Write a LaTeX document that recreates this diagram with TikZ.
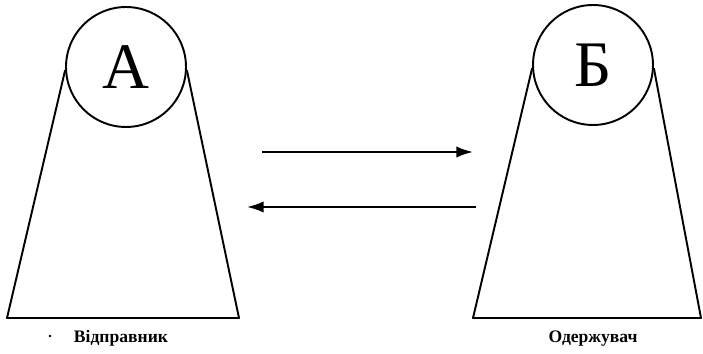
\documentclass[tikz,border=0pt]{standalone}
\usepackage{fontspec}
\setmainfont{Liberation Serif}
\usetikzlibrary{arrows.meta}

\begin{document}
\begin{tikzpicture}[x=0.02cm,y=-0.02cm,>={Latex[length=9.5pt,width=6.5pt]},
    head/.style={draw,circle,line width=1.1pt,inner sep=0pt,minimum size=2.4cm,
      font=\fontsize{37}{40}\selectfont},
    body/.style={line width=1.1pt,line join=round},
    flow/.style={->,line width=1.2pt},
    caption/.style={font=\bfseries\fontsize{10}{12}\selectfont}]
    \useasboundingbox (0,0) rectangle (703,354);

    % Heads of sender and receiver
    \node[head] (headA) at (126,67) {А};
    \node[head] (headB) at (593,65) {Б};

    % Bodies (trapezoids hanging from the heads)
    \coordinate (baseAl) at (7,318);
    \coordinate (baseAr) at (239,318);
    \coordinate (baseBl) at (473,318);
    \coordinate (baseBr) at (701,318);
    \draw[body] (headA.183) -- (baseAl) -- (baseAr) -- (headA.-3);
    \draw[body] (headB.183) -- (baseBl) -- (baseBr) -- (headB.-3);

    % Messages both ways
    \coordinate (sendS) at (262,152);
    \coordinate (sendE) at (473,152);
    \coordinate (replyS) at (476,207);
    \coordinate (replyE) at (247,207);
    \draw[flow] (sendS) -- (sendE);
    \draw[flow] (replyS) -- (replyE);

    % Captions
    \node[circle,fill,inner sep=0.6pt] (dot) at (50,336) {};
    \node[caption] (sender) at (121,338) {Відправник};
    \node[caption] (receiver) at (593,339) {Одержувач};
\end{tikzpicture}
\end{document}
